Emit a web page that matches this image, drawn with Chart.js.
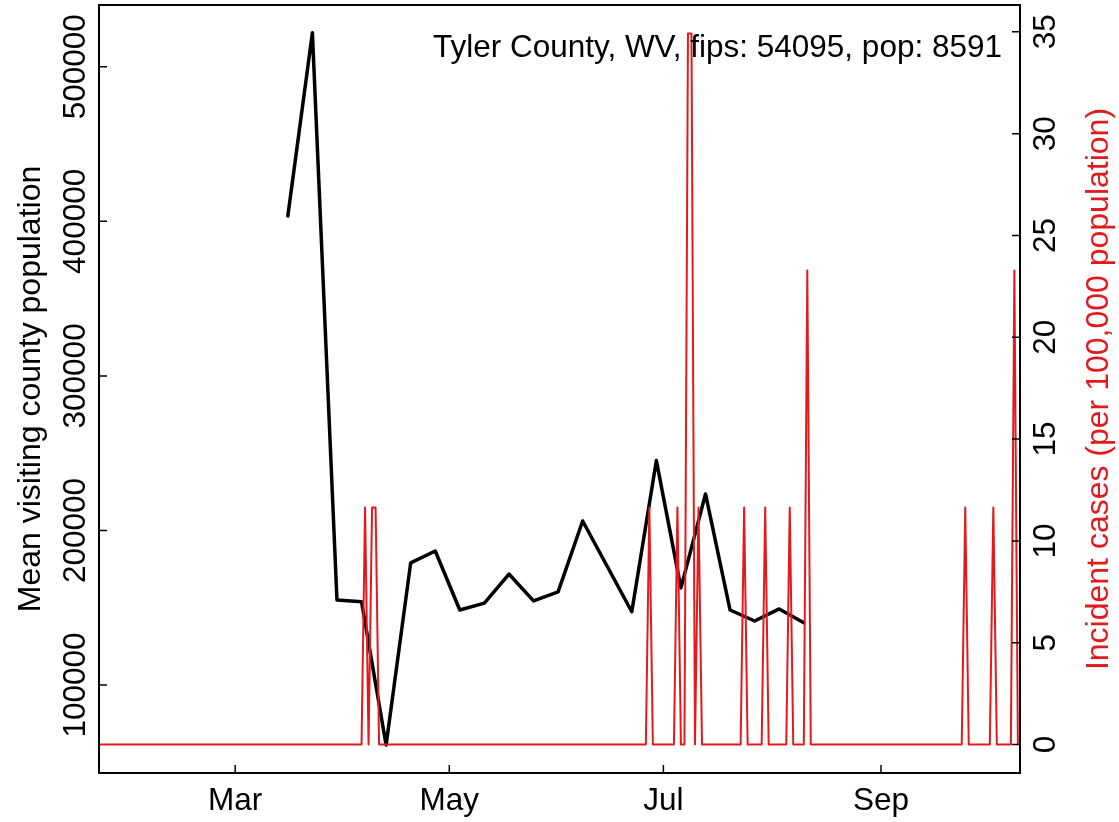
<!DOCTYPE html>
<html>
<head>
<meta charset="utf-8">
<title>Tyler County, WV</title>
<script src="https://cdn.jsdelivr.net/npm/chart.js@4.4.1/dist/chart.umd.min.js"></script>
<style>
  html, body { margin: 0; padding: 0; background: #fff; }
  canvas { display: block; }
</style>
</head>
<body>
<canvas id="chart" width="1119" height="822"></canvas>
<script>
// days are counted from 1 Jan 2020 (= day 0)
const visitDays = [75, 82, 89, 96, 103, 110, 117, 124, 131, 138, 145, 152, 159, 173, 180, 187, 194, 201, 208, 215, 222];
const visitPop = [403500, 522000, 155000, 153900, 61200, 179000, 186700, 148500, 153000, 171800, 154400,
                  160200, 206100, 147400, 245200, 162800, 223600, 148500, 141400, 149200, 140300];

// incident cases per 100,000 (zero between the listed days)
const caseDays = [21, 96, 97, 98, 99, 100, 101, 177, 178, 179, 185, 186, 187, 188, 189, 190, 191, 192, 193,
                  204, 205, 206, 210, 211, 212, 217, 218, 219, 222, 223, 224, 267, 268, 269, 275, 276, 277, 281, 282, 283];
const caseRates = [0, 0, 11.64, 0, 11.64, 11.64, 0, 0, 11.64, 0, 0, 11.64, 0, 0, 34.92, 34.92, 0, 11.64, 0,
                   0, 11.64, 0, 0, 11.64, 0, 0, 11.64, 0, 0, 23.28, 0, 0, 11.64, 0, 0, 11.64, 0, 0, 23.28, 0];

const popTicks = [100000, 200000, 300000, 400000, 500000];
const caseTicks = [0, 5, 10, 15, 20, 25, 30, 35];
const monthDays = [60, 121, 182, 244];
const monthLabels = ["Mar", "May", "Jul", "Sep"];
const title = "Tyler County, WV, fips: 54095, pop: 8591";

const family = '"Liberation Sans", Arial, Helvetica, sans-serif';
const font = "31.5px " + family;
const labFont = "32px " + family;
const red = "#e31a1c";

function vtext(ctx, txt, x, y, color) {
  ctx.save();
  ctx.translate(x, y);
  ctx.rotate(-Math.PI / 2);
  ctx.textAlign = "center";
  ctx.textBaseline = "alphabetic";
  ctx.fillStyle = color;
  ctx.fillText(txt, 0, 0);
  ctx.restore();
}

const axesPlugin = {
  id: "rAxes",
  afterDatasetsDraw(chart) {
    const ctx = chart.ctx;
    const a = chart.chartArea;
    const xs = chart.scales.x, yl = chart.scales.y, yr = chart.scales.y2;
    const midY = (a.top + a.bottom) / 2;

    ctx.save();
    ctx.strokeStyle = "#000";
    ctx.lineWidth = 2;
    ctx.strokeRect(a.left, a.top, a.right - a.left, a.bottom - a.top);

    // ticks point inwards
    ctx.lineWidth = 1.5;
    ctx.beginPath();
    popTicks.forEach(v => {
      const py = yl.getPixelForValue(v);
      ctx.moveTo(a.left, py);
      ctx.lineTo(a.left + 8, py);
    });
    caseTicks.forEach(v => {
      const py = yr.getPixelForValue(v);
      ctx.moveTo(a.right, py);
      ctx.lineTo(a.right - 8, py);
    });
    monthDays.forEach(d => {
      const px = xs.getPixelForValue(d);
      ctx.moveTo(px, a.bottom);
      ctx.lineTo(px, a.bottom - 8);
    });
    ctx.stroke();

    ctx.font = font;
    popTicks.forEach(v => vtext(ctx, String(v), 85, yl.getPixelForValue(v), "#000"));
    caseTicks.forEach(v => vtext(ctx, String(v), 1055, yr.getPixelForValue(v), "#000"));

    ctx.fillStyle = "#000";
    ctx.textAlign = "center";
    ctx.textBaseline = "alphabetic";
    monthDays.forEach((d, i) => ctx.fillText(monthLabels[i], xs.getPixelForValue(d), 810));

    ctx.textAlign = "right";
    ctx.fillText(title, 1002, 57);

    ctx.font = labFont;
    vtext(ctx, "Mean visiting county population", 40, midY, "#000");
    vtext(ctx, "Incident cases (per 100,000 population)", 1108, midY, red);
    ctx.restore();
  }
};

new Chart(document.getElementById("chart"), {
  type: "line",
  data: {
    datasets: [
      {
        label: "Incident cases",
        data: caseDays.map((d, i) => ({ x: d, y: caseRates[i] })),
        yAxisID: "y2",
        borderColor: red,
        borderWidth: 2,
        borderJoinStyle: "round",
        pointRadius: 0,
        tension: 0,
        order: 0
      },
      {
        label: "Mean visiting county population",
        data: visitDays.map((d, i) => ({ x: d, y: visitPop[i] })),
        yAxisID: "y",
        borderColor: "#000",
        borderWidth: 3.5,
        borderJoinStyle: "round",
        borderCapStyle: "round",
        pointRadius: 0,
        tension: 0,
        order: 1
      }
    ]
  },
  options: {
    responsive: false,
    animation: false,
    devicePixelRatio: 1,
    layout: { padding: { left: 99, right: 99, top: 5, bottom: 49 } },
    plugins: { legend: { display: false }, tooltip: { enabled: false } },
    scales: {
      x: { type: "linear", min: 21.2, max: 283.6, display: false },
      y: { min: 43040, max: 540000, display: false },
      y2: { position: "right", min: -1.397, max: 36.317, display: false }
    }
  },
  plugins: [axesPlugin]
});
</script>
</body>
</html>
